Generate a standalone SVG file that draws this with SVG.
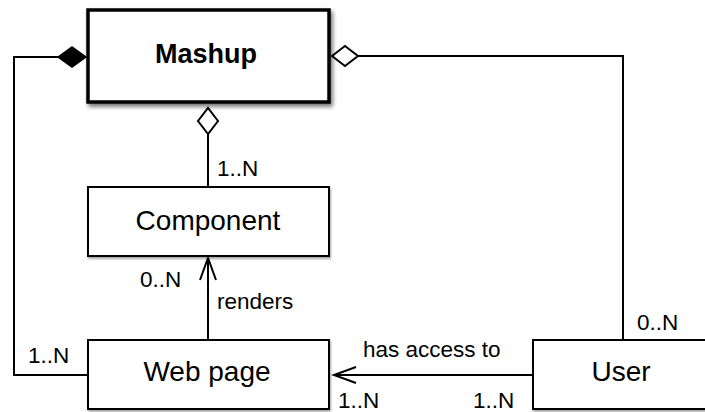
<svg xmlns="http://www.w3.org/2000/svg" width="705" height="412" viewBox="0 0 705 412">
  <style>
    .box { fill: #ffffff; stroke: #000000; stroke-width: 2; }
    .main { stroke-width: 3.5; }
    .name { font-family: "Liberation Sans", Arial, sans-serif; font-size: 28px; fill: #000; text-anchor: middle; }
    .bold { font-weight: bold; font-size: 27px; }
    .lbl { font-family: "Liberation Sans", Arial, sans-serif; font-size: 22.5px; fill: #000; }
    .conn { fill: none; stroke: #000; stroke-width: 2; }
  </style>
  <defs>
    <filter id="shadow" x="-10%" y="-10%" width="130%" height="140%">
      <feDropShadow dx="2" dy="3" stdDeviation="2" flood-color="#000" flood-opacity="0.55"/>
    </filter>
    <filter id="shadowLight" x="-10%" y="-10%" width="130%" height="140%">
      <feDropShadow dx="1" dy="2" stdDeviation="1.2" flood-color="#000" flood-opacity="0.35"/>
    </filter>
    <marker id="filledDiamond" markerUnits="userSpaceOnUse" markerWidth="30" markerHeight="22" refX="28" refY="10" orient="auto" overflow="visible">
      <path d="M0,10 L14,0 L28,10 L14,20 Z" fill="#000" stroke="#000" stroke-width="1.5"/>
    </marker>
    <marker id="openDiamond" markerUnits="userSpaceOnUse" markerWidth="30" markerHeight="22" refX="26" refY="10" orient="auto" overflow="visible">
      <path d="M0,10 L13,0 L26,10 L13,20 Z" fill="#fff" stroke="#000" stroke-width="2"/>
    </marker>
    <marker id="openArrow" markerUnits="userSpaceOnUse" markerWidth="24" markerHeight="18" refX="22" refY="8" orient="auto" overflow="visible">
      <path d="M0,0 L22,8 L0,16" fill="none" stroke="#000" stroke-width="2"/>
    </marker>
  </defs>

  <g id="connectors">
    <path class="conn" d="M87,375 H14 V57 H86" marker-end="url(#filledDiamond)"/>
    <path class="conn" d="M623,340 V56 H332" marker-end="url(#openDiamond)"/>
    <path class="conn" d="M208,187 V108" marker-end="url(#openDiamond)"/>
    <path class="conn" d="M208,340 V258" marker-end="url(#openArrow)"/>
    <path class="conn" d="M533,375 H334" marker-end="url(#openArrow)"/>
    <text class="lbl" x="217" y="176">1..N</text>
    <text class="lbl" x="140" y="287">0..N</text>
    <text class="lbl" x="217" y="309">renders</text>
    <text class="lbl" x="28" y="363">1..N</text>
    <text class="lbl" x="363" y="357">has access to</text>
    <text class="lbl" x="338" y="408">1..N</text>
    <text class="lbl" x="473" y="408">1..N</text>
    <text class="lbl" x="637" y="330">0..N</text>
  </g>

  <g id="mashup">
    <rect class="box main" x="88" y="10" width="241" height="92" filter="url(#shadow)"/>
    <text class="name bold" x="206" y="63">Mashup</text>
  </g>
  <g id="component">
    <rect class="box" x="88" y="187" width="241" height="69" filter="url(#shadowLight)"/>
    <text class="name" x="208" y="230">Component</text>
  </g>
  <g id="webpage">
    <rect class="box" x="88" y="340" width="241" height="69" filter="url(#shadowLight)"/>
    <text class="name" x="207" y="381">Web page</text>
  </g>
  <g id="user">
    <rect class="box" x="533" y="340" width="190" height="69" filter="url(#shadowLight)"/>
    <text class="name" x="621" y="381">User</text>
  </g>
</svg>
